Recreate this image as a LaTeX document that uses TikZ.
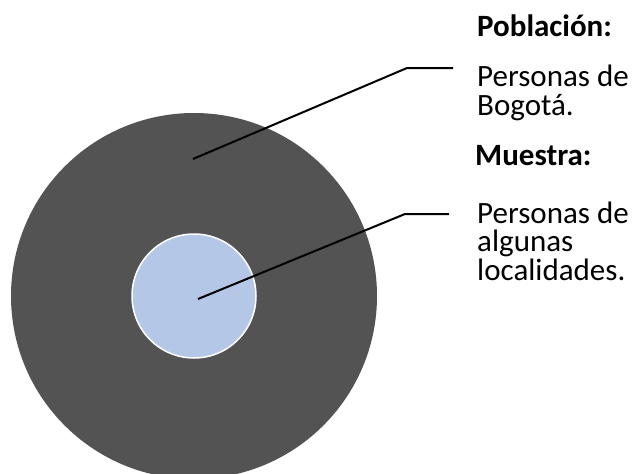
\documentclass[tikz,border=0pt]{standalone}
\usepackage{fontspec}
\setmainfont{Carlito}
\definecolor{popgray}{HTML}{535353}
\definecolor{sampleblue}{HTML}{B4C7E7}
\begin{document}
\begin{tikzpicture}[x=1pt,y=-1pt,
  label text/.style={anchor=base west, inner sep=0pt, font=\fontsize{31}{29}\selectfont},
  heading/.style={label text, font=\fontsize{31}{29}\selectfont\bfseries},
  leader/.style={draw=black, line width=2pt}]
  \useasboundingbox (0,0) rectangle (638,474);
  \clip (0,0) rectangle (638,474);
  % population and sample discs
  \fill[popgray] (194,296) circle[radius=183];
  \filldraw[fill=sampleblue, draw=white, line width=1.5pt] (194,296) circle[radius=62];
  % anchor points for the leader lines
  \coordinate (popdot) at (193,159);
  \coordinate (popbend) at (407,68);
  \coordinate (popend) at (453,68);
  \coordinate (samdot) at (198,299);
  \coordinate (sambend) at (405,214);
  \coordinate (samend) at (449,214);
  \draw[leader] (popdot) -- (popbend) -- (popend);
  \draw[leader] (samdot) -- (sambend) -- (samend);
  % labels
  \node[heading] (poph) at (477,36.5) {Población:};
  \node[label text] (popa) at (477,86.5) {Personas de};
  \node[label text] (popb) at (477,115.5) {Bogotá.};
  \node[heading] (samh) at (475,165) {Muestra:};
  \node[label text] (sama) at (477,223) {Personas de};
  \node[label text] (samb) at (477,251.5) {algunas};
  \node[label text] (samc) at (477,280) {localidades.};
\end{tikzpicture}
\end{document}
